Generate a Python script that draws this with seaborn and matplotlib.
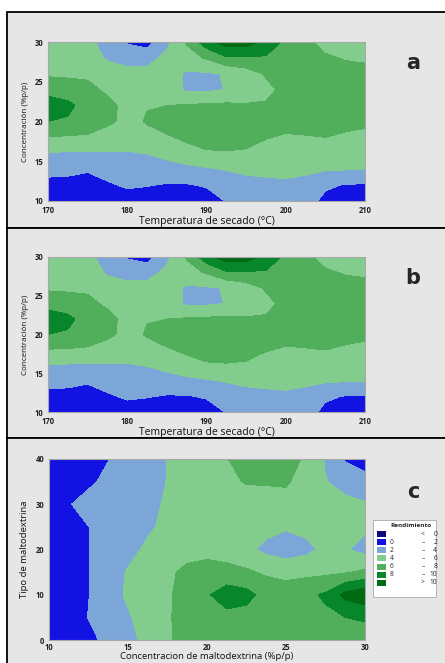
import matplotlib
matplotlib.use("Agg")
import matplotlib.pyplot as plt
from matplotlib.patches import Rectangle
import seaborn as sns

sns.set_style("white")
plt.rcParams['font.family'] = ['Open Sans', 'DejaVu Sans']

# Panels a and b: drying temperature (x) vs concentration (y), yield values
temperatura = [170, 172.5, 175, 177.5, 180, 182.5, 185, 187.5, 190,
               192.5, 195, 197.5, 200, 202.5, 205, 207.5, 210]
concentracion = [10, 12, 14, 16, 18, 20, 22, 24, 26, 28, 30]
rend_ab = [
    [1.0, 1.0, 1.0, 1.0, 1.0, 1.0, 1.0, 1.0, 1.0, 2.1, 3.0, 3.2, 3.2, 2.8, 1.5, 1.2, 1.2],
    [1.6, 1.5, 1.2, 1.7, 2.3, 2.1, 1.85, 1.85, 2.2, 3.0, 3.5, 3.6, 3.8, 3.5, 2.3, 1.9, 1.8],
    [2.4, 2.4, 2.2, 2.9, 3.1, 3.1, 3.3, 3.6, 3.8, 4.1, 4.3, 4.4, 4.3, 4.3, 4.2, 4.1, 4.0],
    [3.9, 3.8, 3.8, 3.9, 3.9, 4.05, 4.5, 5.0, 5.7, 5.8, 5.6, 5.2, 5.0, 5.0, 5.0, 5.0, 4.8],
    [5.9, 5.8, 5.7, 4.6, 4.6, 5.2, 5.7, 6.5, 7.0, 7.1, 7.0, 6.1, 5.8, 5.9, 6.0, 5.8, 5.6],
    [8.0, 7.8, 7.2, 6.6, 5.2, 6.2, 7.2, 7.0, 7.3, 7.5, 7.4, 6.8, 6.6, 6.6, 6.5, 6.4, 6.3],
    [9.0, 8.4, 7.3, 6.7, 5.3, 5.9, 6.0, 6.2, 6.3, 6.4, 6.2, 6.2, 6.8, 6.9, 6.8, 6.7, 6.6],
    [7.3, 7.1, 6.6, 5.6, 5.0, 5.0, 5.2, 3.7, 3.7, 4.05, 4.8, 5.5, 6.5, 6.9, 6.8, 6.7, 6.6],
    [5.7, 5.6, 5.6, 4.8, 4.5, 4.6, 4.8, 3.75, 3.8, 4.1, 5.0, 6.2, 6.8, 6.8, 6.6, 6.5, 6.4],
    [5.0, 5.0, 4.9, 3.8, 3.4, 3.3, 4.5, 5.2, 6.2, 7.8, 7.8, 7.8, 7.2, 6.6, 6.2, 5.9, 5.8],
    [5.0, 5.0, 4.6, 3.0, 1.8, 1.2, 3.5, 6.2, 9.2, 11.0, 11.0, 9.3, 7.6, 6.3, 5.5, 5.2, 5.0],
]

# Panel c: maltodextrin concentration (x) vs maltodextrin type (y)
malto_conc = [10, 11.25, 12.5, 13.75, 15, 16.25, 17.5, 18.75, 20,
              21.25, 22.5, 23.75, 25, 26.25, 27.5, 28.75, 30]
malto_tipo = [0, 5, 10, 15, 20, 25, 30, 35, 40]
rend_c = [
    [0.8, 1.0, 1.5, 2.5, 3.5, 4.5, 5.8, 6.6, 6.8, 7.0, 7.0, 6.9, 6.9, 7.0, 7.1, 7.2, 7.2],
    [0.8, 1.1, 2.05, 2.9, 3.8, 4.8, 5.8, 6.7, 7.2, 7.4, 7.3, 7.0, 6.9, 7.1, 7.6, 8.0, 8.2],
    [0.8, 1.1, 1.95, 3.1, 4.3, 5.0, 5.7, 6.9, 7.8, 9.0, 8.6, 7.3, 7.0, 7.5, 8.3, 10.6, 11.5],
    [0.8, 1.1, 1.95, 3.1, 4.15, 4.9, 5.6, 6.5, 6.9, 6.7, 6.3, 5.7, 5.4, 5.5, 5.6, 5.8, 6.4],
    [0.8, 1.1, 1.95, 2.7, 3.5, 4.3, 4.9, 5.2, 5.3, 5.0, 4.5, 3.5, 3.0, 3.5, 4.4, 4.2, 3.3],
    [0.8, 1.2, 1.98, 2.6, 3.2, 3.75, 4.4, 4.9, 5.1, 5.2, 5.0, 4.6, 4.2, 4.5, 4.9, 4.8, 4.4],
    [1.0, 1.9, 2.6, 3.0, 3.3, 3.6, 4.2, 4.8, 5.2, 5.4, 5.3, 5.3, 5.4, 5.2, 4.9, 4.5, 4.2],
    [0.8, 1.1, 1.7, 2.4, 2.9, 3.4, 4.05, 4.8, 5.3, 5.7, 6.1, 6.15, 6.2, 5.3, 4.1, 3.3, 2.6],
    [0.8, 1.0, 1.3, 1.95, 2.7, 3.3, 4.05, 4.8, 5.4, 5.95, 6.6, 6.9, 6.6, 5.8, 3.8, 1.8, 1.2],
]

niveles = [-100, 0, 2, 4, 6, 8, 10, 100]
colores = sns.color_palette(['#0b0b7d', '#1212e2', '#7ca6d8', '#82cc8d',
                             '#51ae5b', '#07862b', '#006b12'])
leyenda_desde = ['', '0', '2', '4', '6', '8', '']
leyenda_signo = ['<', '–', '–', '–', '–', '–', '>']
leyenda_hasta = ['0', '2', '4', '6', '8', '10', '10']

W, H = 445, 663
fig = plt.figure(figsize=(W / 100, H / 100), dpi=100, facecolor='white')


def px_box(x0, y0, x1, y1):
    # pixel box (top-left origin) -> figure fraction [left, bottom, width, height]
    return [x0 / W, 1 - y1 / H, (x1 - x0) / W, (y1 - y0) / H]


# grey panel frames
for y0, y1 in [(12, 228), (228, 438), (438, 670)]:
    l, b, w, h = px_box(7, y0, 452, y1)
    fig.patches.append(Rectangle((l, b), w, h, transform=fig.transFigure,
                                 facecolor='#e6e6e6', edgecolor='black',
                                 linewidth=1.3, zorder=-5))


def style_axes(ax):
    for s in ax.spines.values():
        s.set_color('#a8a8a8')
        s.set_linewidth(0.8)
    ax.tick_params(length=2.5, width=0.6, color='#a8a8a8', labelsize=5.5,
                   labelcolor='#222222', pad=1)
    for t in ax.get_xticklabels() + ax.get_yticklabels():
        t.set_fontweight('bold')


paneles = [('a', (48, 42, 365, 201), 63), ('b', (48, 257, 365, 412), 278)]
for letra, caja, y_letra in paneles:
    ax = fig.add_axes(px_box(*caja))
    ax.contourf(temperatura, concentracion, rend_ab, levels=niveles, colors=colores)
    ax.set_xlim(170, 210)
    ax.set_ylim(10, 30)
    ax.set_xticks([170, 180, 190, 200, 210])
    ax.set_yticks([10, 15, 20, 25, 30])
    style_axes(ax)
    ax.set_xlabel('Temperatura de secado (°C)', fontsize=7.5, labelpad=0.5,
                  color='#111111')
    ax.set_ylabel('Concentración (%p/p)', fontsize=5.8, labelpad=4,
                  color='#111111')
    fig.text(413 / W, 1 - y_letra / H, letra, fontsize=15, fontweight='heavy',
             family='DejaVu Sans', ha='center', va='center')

ax = fig.add_axes(px_box(49, 459, 365, 640))
ax.contourf(malto_conc, malto_tipo, rend_c, levels=niveles, colors=colores)
ax.set_xlim(10, 30)
ax.set_ylim(0, 40)
ax.set_xticks([10, 15, 20, 25, 30])
ax.set_yticks([0, 10, 20, 30, 40])
style_axes(ax)
ax.tick_params(axis='x', length=2, pad=0.5)
ax.set_xlabel('Concentracion de maltodextrina (%p/p)', fontsize=6.8,
              color='#111111')
ax.xaxis.set_label_coords(0.5, -0.0645)
ax.set_ylabel('Tipo de maltodextrina', fontsize=6.8, labelpad=5, color='#111111')
fig.text(413 / W, 1 - 492 / H, 'c', fontsize=15, fontweight='heavy',
         family='DejaVu Sans', ha='center', va='center')

# legend box "Rendimiento"
l, b, w, h = px_box(373, 520, 436, 597)
fig.patches.append(Rectangle((l, b), w, h, transform=fig.transFigure,
                             facecolor='white', edgecolor='#aaaaaa',
                             linewidth=0.6, zorder=2))
fig.text(390 / W, 1 - 525.5 / H, 'Rendimiento', fontsize=4.6, fontweight='bold',
         ha='left', va='center', zorder=3)
for i, color in enumerate(colores):
    yc = 534.3 + 8.05 * i
    l, b, w, h = px_box(377, yc - 3, 386, yc + 3)
    fig.patches.append(Rectangle((l, b), w, h, transform=fig.transFigure,
                                 facecolor=color, edgecolor='none', zorder=3))
    fig.text(390 / W, 1 - yc / H, leyenda_desde[i], fontsize=4.8,
             ha='left', va='center', zorder=3)
    fig.text(423 / W, 1 - yc / H, leyenda_signo[i], fontsize=4.8,
             ha='center', va='center', zorder=3)
    fig.text(437 / W, 1 - yc / H, leyenda_hasta[i], fontsize=4.8,
             ha='right', va='center', zorder=3)

fig.savefig('out.png', dpi=100)
